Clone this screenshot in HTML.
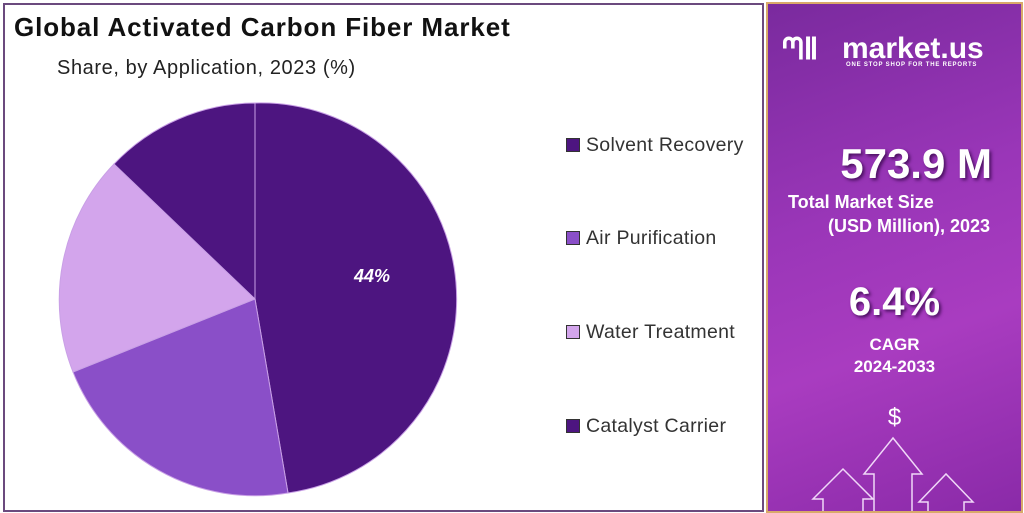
<!DOCTYPE html>
<html><head><meta charset="utf-8"><style>
body{margin:0;width:1024px;height:513px;background:#fff;position:relative;overflow:hidden;font-family:"Liberation Sans",sans-serif}
.lp{position:absolute;left:3px;top:3px;width:757px;height:505px;border:2px solid #6b4a7e;background:#fff}
.rp{position:absolute;left:766px;top:2px;width:253px;height:507px;border:2px solid #d9a96a;background:linear-gradient(160deg,#7a2a9e 0%,#9a36b8 40%,#a93cc0 65%,#8a2aa8 100%);color:#fff;text-align:center;overflow:hidden}
.t{position:absolute;font-weight:bold}
.leg{position:absolute;left:566px;font-size:19.5px;color:#333;letter-spacing:0.3px}
.leg span{display:inline-block;width:12px;height:12px;border:1px solid #333;margin-right:6px;vertical-align:-1px}
</style></head><body>
<div class="lp"></div>
<div style="position:absolute;left:14px;top:12px;font-size:26px;font-weight:bold;color:#111;letter-spacing:0.9px">Global Activated Carbon Fiber Market</div>
<div style="position:absolute;left:57px;top:57px;font-size:20px;color:#222;letter-spacing:0.6px">Share, by Application, 2023 (%)</div>
<svg style="position:absolute;left:0;top:0" width="760" height="513">
<path d="M255,299 L255,103 A196,196 0 0 1 288,493 Z" fill="#4d1580" stroke="#c9a0e6" stroke-width="1"/>
<path d="M255,299 L288,493 A196,196 0 0 1 73,372 Z" fill="#8a4fc8" stroke="#c9a0e6" stroke-width="1"/>
<path d="M255,299 L73,372 A196,196 0 0 1 114,164 Z" fill="#d3a5ec" stroke="#c9a0e6" stroke-width="1"/>
<path d="M255,299 L114,164 A196,196 0 0 1 255,103 Z" fill="#4d1580" stroke="#c9a0e6" stroke-width="1"/>
<text x="372" y="282" font-family="Liberation Sans" font-size="18" font-weight="bold" font-style="italic" fill="#fff" text-anchor="middle">44%</text>
</svg>
<div class="leg" style="top:134px"><span style="background:#4d1580"></span>Solvent Recovery</div>
<div class="leg" style="top:227px"><span style="background:#8a4fc8"></span>Air Purification</div>
<div class="leg" style="top:321px"><span style="background:#d3a5ec"></span>Water Treatment</div>
<div class="leg" style="top:415px"><span style="background:#4d1580"></span>Catalyst Carrier</div>
<div class="rp">
<div class="t" style="left:14px;top:28px;font-size:30px">ᘉⅡ</div>
<div class="t" style="left:74px;top:28px;font-size:30px">market.us</div>
<div class="t" style="left:78px;top:58px;font-size:6px;letter-spacing:0.8px">ONE STOP SHOP FOR THE REPORTS</div>
<div class="t" style="left:0;width:224px;text-align:right;top:136px;font-size:42px;text-shadow:2px 2px 3px #4a1060">573.9 M</div>
<div class="t" style="left:20px;top:188px;font-size:18px;text-align:left">Total Market Size</div>
<div class="t" style="left:0;width:222px;text-align:right;top:212px;font-size:18px">(USD Million), 2023</div>
<div class="t" style="left:0;width:253px;top:276px;font-size:40px;text-shadow:2px 2px 3px #4a1060">6.4%</div>
<div class="t" style="left:0;width:253px;top:331px;font-size:17px">CAGR</div>
<div class="t" style="left:0;width:253px;top:353px;font-size:17px">2024-2033</div>
<div style="position:absolute;left:0;width:253px;top:400px;font-size:24px">$</div>
<svg style="position:absolute;left:0;top:430px" width="253" height="80" fill="none" stroke="#f0d8f8" stroke-width="1.5">
<path d="M55,80 V65 H45 L75,35 L105,65 H95 V80"/>
<path d="M106,80 V40 H96 L125,4 L154,40 H144 V80"/>
<path d="M160,80 V68 H151 L178,40 L205,68 H196 V80"/>
</svg>
</div>
</body></html>
